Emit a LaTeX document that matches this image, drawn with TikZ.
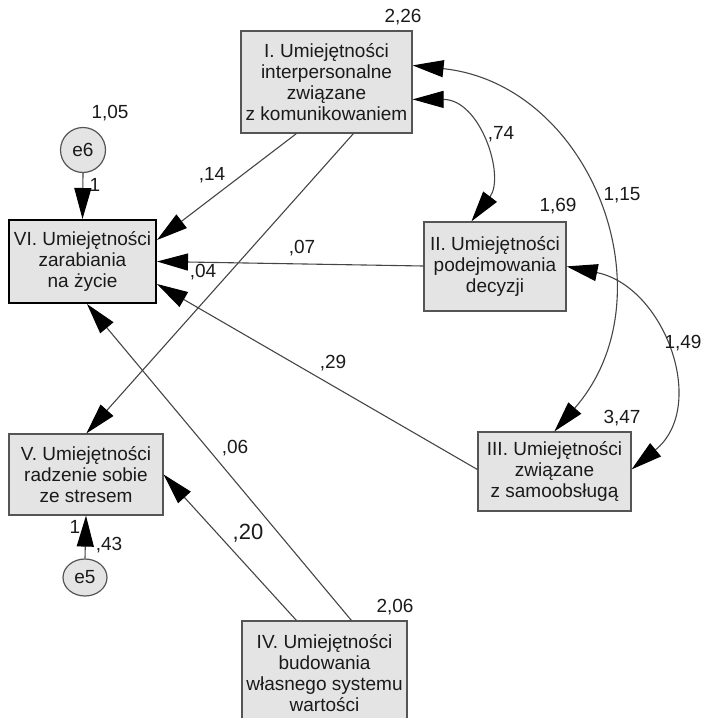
\documentclass[tikz,border=0pt]{standalone}
\usepackage{fontspec}
\setmainfont{Liberation Sans}
\usetikzlibrary{arrows.meta,calc,shapes.geometric}

\definecolor{boxfill}{HTML}{E4E4E4}
\definecolor{boxline}{HTML}{555555}
\definecolor{pathline}{HTML}{454545}
\definecolor{inktext}{HTML}{1A1A1A}

\newcommand\diagfont{\fontsize{19}{21}\selectfont}

\tikzset{
  var/.style={draw=boxline, fill=boxfill, line width=1.2pt, align=center,
    inner sep=0pt, text=inktext, font=\diagfont},
  outcome/.style={var, draw=black, line width=2pt},
  lbl/.style={inner sep=0pt, text=inktext, font=\diagfont},
  tipshape/.tip={Triangle[length=31pt, width=17pt, color=black, fill=black]},
  regpath/.style={draw=pathline, line width=1.1pt, -tipshape},
  covpath/.style={draw=pathline, line width=1.1pt, tipshape-tipshape},
}

\begin{document}
\begin{tikzpicture}[x=1pt, y=-1pt]
  \useasboundingbox (0,0) rectangle (703,718);

  % observed variables
  \node[var, minimum width=171pt, minimum height=102pt] (I) at (326.5,82)
    {I. Umiejętności\\interpersonalne\\związane\\z komunikowaniem};
  \node[var, minimum width=142pt, minimum height=89pt] (II) at (495,266.5)
    {II. Umiejętności\\podejmowania\\decyzji};
  \node[var, minimum width=153pt, minimum height=79pt] (III) at (554.5,471.5)
    {III. Umiejętności\\związane\\z samoobsługą};
  \node[var, minimum width=165pt, minimum height=104pt] (IV) at (324.5,673)
    {IV. Umiejętności\\budowania\\własnego systemu\\wartości};
  \node[var, minimum width=154pt, minimum height=81pt] (V) at (86,474.5)
    {V. Umiejętności\\radzenie sobie\\ze stresem};
  \node[outcome, minimum width=147pt, minimum height=83pt] (VI) at (82.5,261.5)
    {VI. Umiejętności\\zarabiania\\na życie};

  % error terms
  \node[var, circle, minimum size=45pt] (e6) at (83,150) {e6};
  \node[var, ellipse, minimum width=44pt, minimum height=37pt] (e5) at (85,577.5) {e5};

  % regression paths
  \draw[regpath] (e6.south) -- (VI.north);
  \draw[regpath] (e5.north) -- (V.south);
  \draw[regpath] ($(I.south west)+(56,0)$) -- ($(VI.north east)+(0,21)$);
  \draw[regpath] ($(I.south west)+(113,0)$) -- ($(V.north west)+(78,0)$);
  \draw[regpath] ($(II.west)+(0,-0.5)$) -- (VI.east);
  \draw[regpath] ($(III.west)+(0,-2)$) -- ($(VI.north east)+(0,65)$);
  \draw[regpath] ($(IV.north west)+(110,0)$) -- ($(VI.south west)+(79,0)$);
  \draw[regpath] ($(IV.north west)+(55,0)$) -- (V.east);

  % covariances
  \draw[covpath] ($(I.north east)+(0,69)$) .. controls +(68,0) and +(34,-45) .. ($(II.north west)+(48,0)$);
  \draw[covpath] ($(I.north east)+(0,35)$) .. controls +(179,19) and +(118,-135) .. ($(III.north west)+(77,0)$);
  \draw[covpath] ($(II.north east)+(0,45)$) .. controls +(98,20) and +(77,-63) .. ($(III.north east)+(0,38)$);

  % estimates
  \node[lbl] (vI)   at (403,17)  {2,26};
  \node[lbl] (ve6)  at (110,113) {1,05};
  \node[lbl] (vII)  at (558,206) {1,69};
  \node[lbl] (vIII) at (622,418) {3,47};
  \node[lbl] (vIV)  at (395,607) {2,06};
  \node[lbl] (c12)  at (501,134) {,74};
  \node[lbl] (c13)  at (622,195) {1,15};
  \node[lbl] (c23)  at (683,343) {1,49};
  \node[lbl] (b16)  at (212,175) {,14};
  \node[lbl] (b26)  at (302,248) {,07};
  \node[lbl] (b15)  at (203,272) {,04};
  \node[lbl] (b36)  at (333,363) {,29};
  \node[lbl] (b46)  at (235,448) {,06};
  \node[lbl, font=\fontsize{22}{24}\selectfont] (b45) at (248,533) {,20};
  \node[lbl] (w6)   at (95,185)  {1};
  \node[lbl] (w5)   at (75,527)  {1};
  \node[lbl] (ve5)  at (109,545) {,43};
\end{tikzpicture}
\end{document}
